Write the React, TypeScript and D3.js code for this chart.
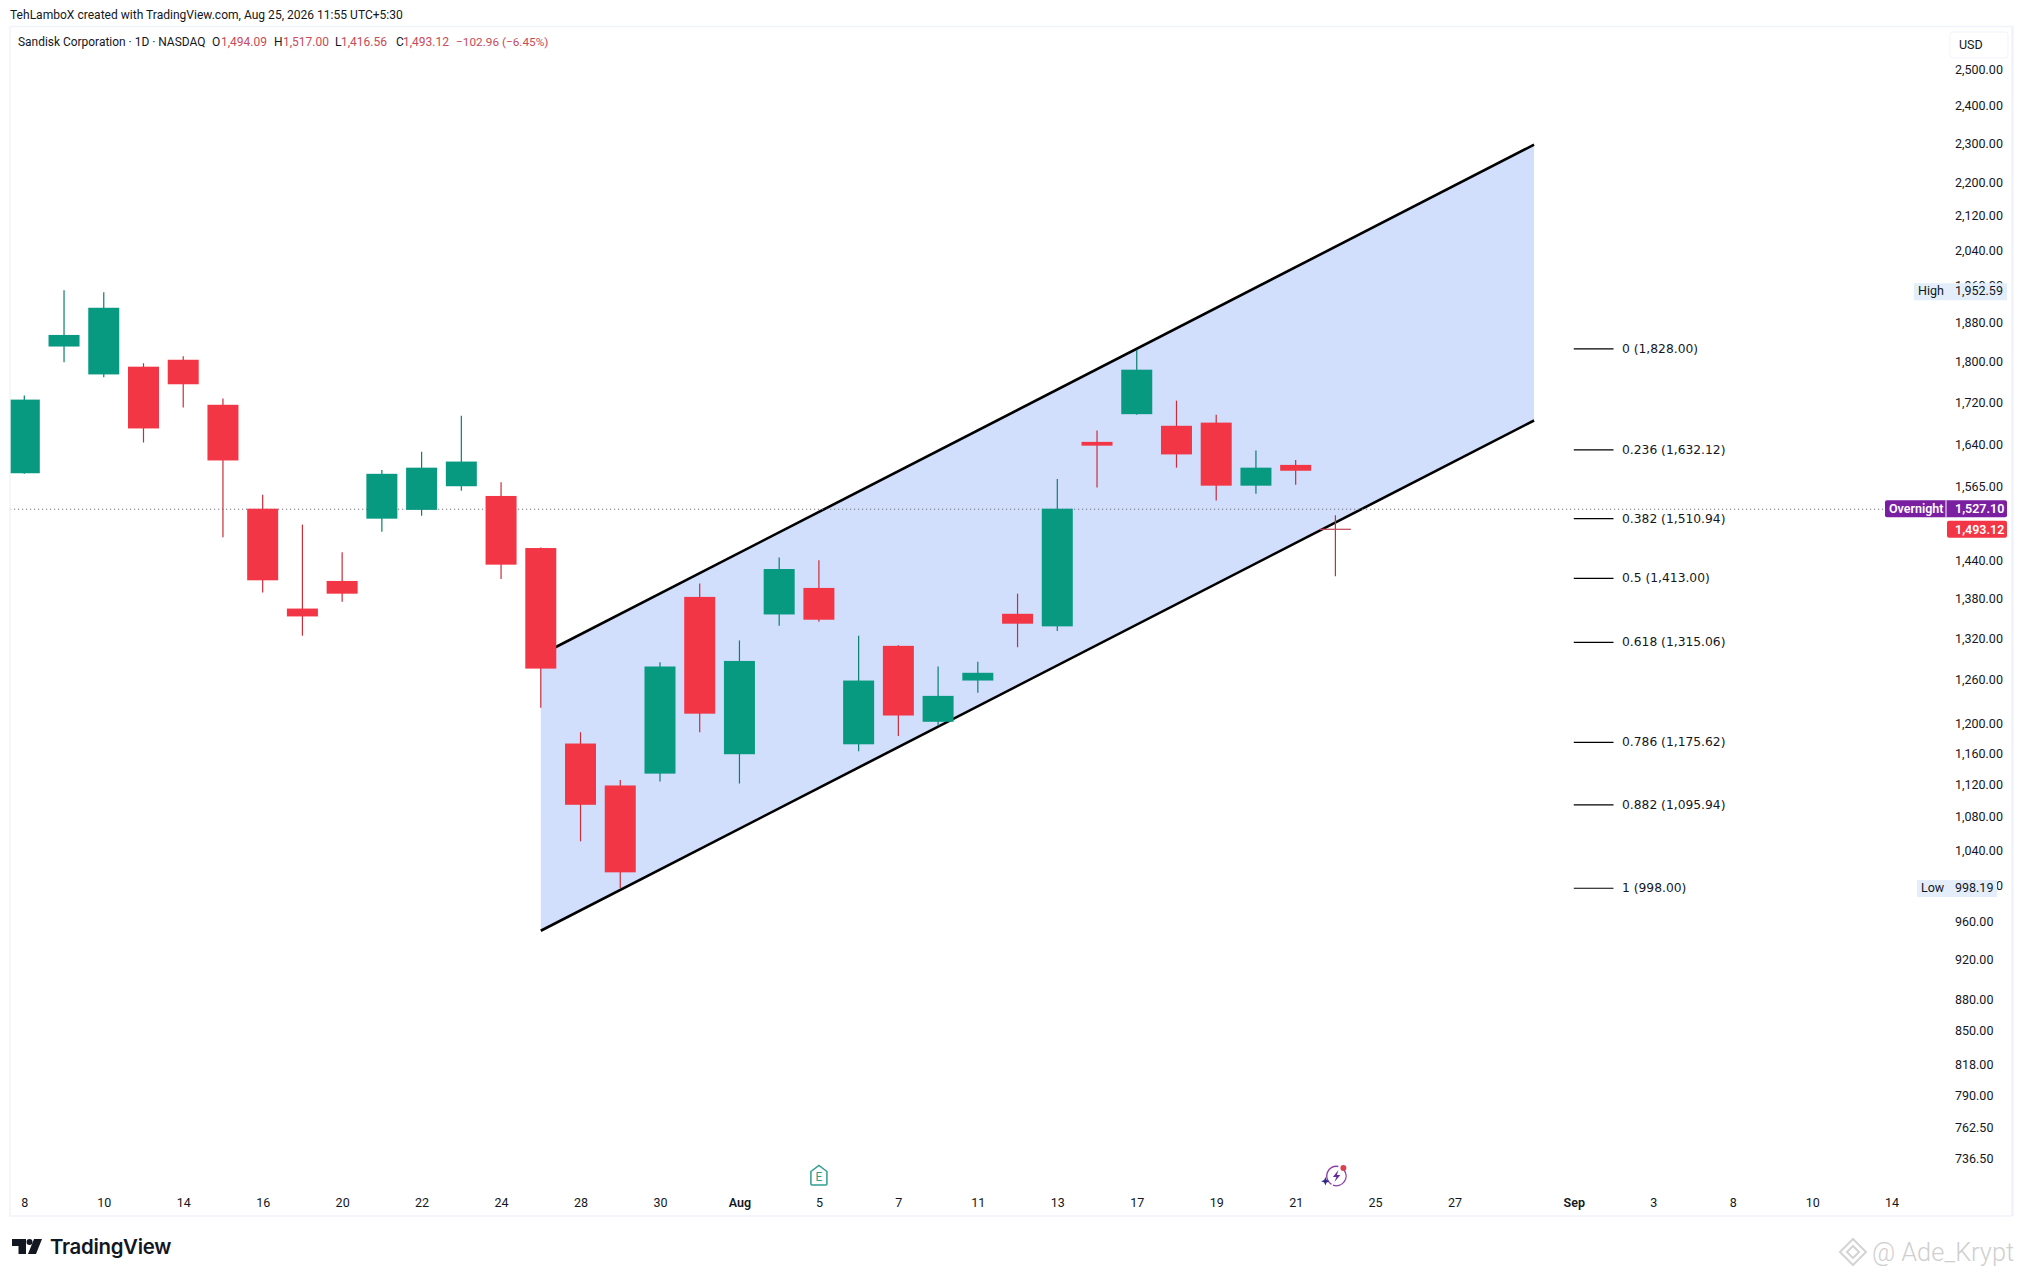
import React, { useRef, useEffect } from 'react';
import * as d3 from 'd3';

const WIDTH = 2022;
const HEIGHT = 1277;
const FONT = 'Roboto, sans-serif';

// daily bars (first bar is Jul 8)
const opens = [1590, 1833, 1776.5, 1792, 1806, 1717, 1528, 1366, 1409, 1511, 1526, 1567, 1550, 1462, 1174, 1120, 1135, 1384, 1160, 1357, 1398, 1173, 1310, 1203, 1260, 1358, 1339, 1647, 1699, 1677, 1683, 1568, 1605, 1494.09];
const highs = [1735, 1952.59, 1948, 1799, 1813, 1729, 1552, 1501, 1455, 1596, 1629, 1696, 1574, 1463, 1189, 1127, 1286, 1405, 1318, 1446.5, 1442, 1325, 1311, 1280, 1287, 1389, 1580, 1668, 1826, 1725, 1698, 1631, 1614, 1517];
const lows = [1589, 1801, 1771, 1646, 1712, 1480, 1391, 1325, 1376.5, 1489, 1516, 1559, 1412, 1222, 1052, 998.19, 1125, 1189, 1122.5, 1340, 1346, 1164, 1184, 1197.5, 1243, 1308, 1332, 1565, 1698, 1600, 1542, 1554, 1569.5, 1416.56];
const closes = [1727, 1857, 1914.5, 1672, 1757, 1613, 1410, 1354, 1389, 1589, 1600, 1611, 1435, 1277, 1096, 1016, 1280, 1214, 1288, 1428, 1349, 1260, 1211.5, 1238.5, 1271, 1343, 1528, 1640, 1786, 1624, 1568, 1600, 1594.5, 1493.12];

const priceTicks = [2500, 2400, 2300, 2200, 2120, 2040, 1960, 1880, 1800, 1720, 1640, 1565, 1440, 1380, 1320, 1260, 1200, 1160, 1120, 1080, 1040, 1000, 960, 920, 880, 850, 818, 790, 762.5, 736.5];
const timeTickBars = [0, 2, 4, 6, 8, 10, 12, 14, 16, 18, 20, 22, 24, 26, 28, 30, 32, 34, 36, 39, 41, 43, 45, 47];
const timeTickLabels = ['8', '10', '14', '16', '20', '22', '24', '28', '30', 'Aug', '5', '7', '11', '13', '17', '19', '21', '25', '27', 'Sep', '3', '8', '10', '14'];

// the two channel lines: [bar, price] at each end
const channelUpper = [[13, 1297], [38, 2299]];
const channelLower = [[13, 951.5], [38, 1687]];

const fibRatios = ['0', '0.236', '0.382', '0.5', '0.618', '0.786', '0.882', '1'];
const fibPrices = [1828, 1632.12, 1510.94, 1413, 1315.06, 1175.62, 1095.94, 998];

const overnightPrice = 1527.1;
const lastPrice = 1493.12;
const highPrice = 1952.59;
const lowPrice = 998.19;

const legendParts = [
  { x: 18, text: 'Sandisk Corporation · 1D · NASDAQ', fill: '#131722', size: 11.95 },
  { x: 212, text: 'O', fill: '#131722', size: 12 },
  { x: 221, text: '1,494.09', fill: '#c94a58', size: 12 },
  { x: 274, text: 'H', fill: '#131722', size: 12 },
  { x: 283, text: '1,517.00', fill: '#c94a58', size: 12 },
  { x: 335, text: 'L', fill: '#131722', size: 12 },
  { x: 341, text: '1,416.56', fill: '#c94a58', size: 12 },
  { x: 396, text: 'C', fill: '#131722', size: 12 },
  { x: 403, text: '1,493.12', fill: '#c94a58', size: 12 },
  { x: 456, text: '−102.96 (−6.45%)', fill: '#c94a58', size: 11.8 },
];

const GREEN = '#089981';
const RED = '#f23645';

const App = () => {
  const ref = useRef<SVGSVGElement>(null);

  useEffect(() => {
    const svg = d3.select(ref.current);
    svg.selectAll('*').remove();

    const x = d3.scaleLinear().domain([0, 33]).range([24.3, 1335.4]);
    const y = d3.scaleLog().domain([2500, 736.5]).range([70, 1159]);
    const bars = d3.range(opens.length);

    svg.append('rect').attr('width', WIDTH).attr('height', HEIGHT).attr('fill', '#fff');

    // frame
    svg.append('rect')
      .attr('x', 10).attr('y', 26.5)
      .attr('width', 2002).attr('height', 1189.5)
      .attr('fill', 'none').attr('stroke', '#f0f3fa').attr('stroke-width', 1.5);
    svg.append('line')
      .attr('x1', 2012.5).attr('x2', 2012.5).attr('y1', 26).attr('y2', 1216)
      .attr('stroke', '#f0f3fa').attr('stroke-width', 2.5);

    svg.append('defs').append('clipPath').attr('id', 'plot')
      .append('rect').attr('x', 10.7).attr('y', 27).attr('width', 2000).attr('height', 1188);
    const plot = svg.append('g').attr('clip-path', 'url(#plot)');

    // channel
    const channelArea = d3.area<number[]>()
      .x(d => x(d[0]))
      .y0((d, i) => y(channelLower[i][1]))
      .y1(d => y(d[1]));
    plot.append('path').datum(channelUpper).attr('d', channelArea).attr('fill', '#d2dffc');
    const channelLine = d3.line<number[]>().x(d => x(d[0])).y(d => y(d[1]));
    [channelUpper, channelLower].forEach(l => {
      plot.append('path').datum(l).attr('d', channelLine)
        .attr('fill', 'none').attr('stroke', '#000').attr('stroke-width', 2.6);
    });

    // overnight price line
    plot.append('line')
      .attr('x1', 10).attr('x2', 1885)
      .attr('y1', y(overnightPrice)).attr('y2', y(overnightPrice))
      .attr('stroke', '#6f7280').attr('stroke-width', 1).attr('stroke-dasharray', '1.2 2.8');

    // candles
    const candleColor = (i: number) => (closes[i] >= opens[i] ? GREEN : RED);
    plot.selectAll('line.wick').data(bars).join('line')
      .attr('class', 'wick')
      .attr('x1', i => x(i)).attr('x2', i => x(i))
      .attr('y1', i => y(highs[i])).attr('y2', i => y(lows[i]))
      .attr('stroke', i => d3.color(candleColor(i)).darker(0.5).formatHex()).attr('stroke-width', 1.2);
    plot.selectAll('rect.body').data(bars).join('rect')
      .attr('class', 'body')
      .attr('x', i => x(i) - 15.5)
      .attr('width', 31)
      .attr('y', i => y(Math.max(opens[i], closes[i])))
      .attr('height', i => Math.max(1.2, y(Math.min(opens[i], closes[i])) - y(Math.max(opens[i], closes[i]))))
      .attr('fill', i => (i === 33 ? '#c24655' : candleColor(i)));

    // fib levels
    const fib = svg.append('g');
    fib.selectAll('line').data(fibPrices).join('line')
      .attr('x1', x(39)).attr('x2', x(40))
      .attr('y1', d => y(d)).attr('y2', d => y(d))
      .attr('stroke', '#000').attr('stroke-width', 1.2);
    fib.selectAll('text').data(fibPrices).join('text')
      .attr('x', x(40) + 8.5)
      .attr('y', d => y(d))
      .attr('dy', '0.33em')
      .attr('font-family', 'DejaVu Sans')
      .attr('font-size', 12.3)
      .attr('fill', '#131722')
      .text((d, i) => `${fibRatios[i]} (${d3.format(',.2f')(d)})`);

    // price axis
    const yAxis = svg.append('g')
      .attr('transform', 'translate(1955,-1)')
      .call(d3.axisRight(y).tickValues(priceTicks).tickSize(0).tickPadding(0).tickFormat(d3.format(',.2f')));
    yAxis.select('.domain').remove();
    yAxis.selectAll('text').attr('font-family', FONT).attr('font-size', 12.5).attr('fill', '#131722');

    // time axis
    const xAxis = svg.append('g')
      .attr('transform', 'translate(0,1198)')
      .call(d3.axisBottom(x).tickValues(timeTickBars).tickSize(0).tickPadding(0)
        .tickFormat((d, i) => timeTickLabels[i]));
    xAxis.select('.domain').remove();
    xAxis.selectAll('text')
      .attr('font-family', FONT).attr('font-size', 12.5).attr('fill', '#131722')
      .attr('font-weight', (d, i) => (timeTickLabels[i] === 'Aug' || timeTickLabels[i] === 'Sep' ? 600 : 400));

    // USD box
    svg.append('rect').attr('x', 1950).attr('y', 32).attr('width', 58).attr('height', 26).attr('rx', 3)
      .attr('fill', '#fff').attr('stroke', '#f0f3fa').attr('stroke-width', 1);
    const label = (px: number, py: number, text: string, fill: string, weight = 400, size = 12.5) =>
      svg.append('text').attr('x', px).attr('y', py).attr('dy', '0.35em')
        .attr('font-family', FONT).attr('font-size', size).attr('font-weight', weight)
        .attr('fill', fill).text(text);
    label(1959, 44.5, 'USD', '#131722');

    // high / low tags
    svg.append('rect').attr('x', 1914).attr('y', y(highPrice) - 7).attr('width', 93).attr('height', 17).attr('fill', '#e3eefa');
    label(1918, y(highPrice) + 0.5, 'High', '#131722');
    label(1955, y(highPrice) + 0.5, d3.format(',.2f')(highPrice), '#131722');
    svg.append('rect').attr('x', 1917).attr('y', y(lowPrice) - 8).attr('width', 80).attr('height', 17).attr('fill', '#e3eefa');
    label(1921, y(lowPrice), 'Low', '#131722');
    label(1955, y(lowPrice), d3.format(',.2f')(lowPrice), '#131722');

    // overnight / last price tags
    const tagY = y(overnightPrice) - 0.5;
    svg.append('rect').attr('x', 1885).attr('y', tagY - 8.5).attr('width', 122).attr('height', 17).attr('rx', 2).attr('fill', '#7b1fa2');
    svg.append('line').attr('x1', 1946).attr('x2', 1946).attr('y1', tagY - 8.5).attr('y2', tagY + 8.5).attr('stroke', '#fff');
    label(1889, tagY, 'Overnight', '#fff', 600);
    label(1955, tagY, d3.format(',.2f')(overnightPrice), '#fff', 600);
    const lastY = y(lastPrice);
    svg.append('rect').attr('x', 1947).attr('y', lastY - 8.5).attr('width', 60).attr('height', 17).attr('rx', 2).attr('fill', RED);
    label(1955, lastY, d3.format(',.2f')(lastPrice), '#fff', 600);

    // header
    label(10, 14.5, 'TehLamboX created with TradingView.com, Aug 25, 2026 11:55 UTC+5:30', '#131722', 400, 12.05);
    legendParts.forEach(p => label(p.x, 41.5, p.text, p.fill, 400, p.size));

    // earnings flag
    const flag = svg.append('g').attr('transform', `translate(${x(20)},1175.5)`);
    flag.append('path')
      .attr('d', 'M-8,-4 L0,-10 L8,-4 V8.5 Q8,9.5 7,9.5 H-7 Q-8,9.5 -8,8.5 Z')
      .attr('fill', '#fff').attr('stroke', '#2f9e8f').attr('stroke-width', 1.5);
    flag.append('text').attr('text-anchor', 'middle').attr('y', 5.5)
      .attr('font-family', FONT).attr('font-size', 12).attr('fill', '#2f9e8f').text('E');

    // dividend-style icon next to the last bar
    const spark = svg.append('g').attr('transform', `translate(${x(33) + 1},1176)`);
    spark.append('path').attr('d', d3.arc()({ innerRadius: 9, outerRadius: 10.4, startAngle: -2.6, endAngle: 0.2 }) as string).attr('fill', '#8e3fa8');
    spark.append('path').attr('d', d3.arc()({ innerRadius: 9, outerRadius: 10.4, startAngle: 0.9, endAngle: 3.5 }) as string).attr('fill', '#8e3fa8');
    spark.append('path').attr('d', 'M2,-6 L-3.5,1 H0 L-2,6 L4,-1 H0.5 Z').attr('fill', '#6a2c9b');
    spark.append('path').attr('d', 'M-11,1 L-9.8,4 L-6.8,5.2 L-9.8,6.4 L-11,9.4 L-12.2,6.4 L-15.2,5.2 L-12.2,4 Z').attr('fill', '#2f2a86');
    spark.append('circle').attr('cx', 7).attr('cy', -8).attr('r', 3).attr('fill', '#d8434f');

    // logo
    const logo = svg.append('g').attr('fill', '#131722');
    logo.append('path').attr('d', 'M12,1239 H26 V1254 H18.5 V1246 H12 Z');
    logo.append('circle').attr('cx', 29.5).attr('cy', 1242).attr('r', 3);
    logo.append('path').attr('d', 'M34,1239 H42 L36,1254 H28 Z');
    logo.append('text').attr('x', 50).attr('y', 1254)
      .attr('font-family', 'Inter').attr('font-weight', 600).attr('font-size', 20.4).attr('letter-spacing', -0.3)
      .text('TradingView');

    // watermark
    const mark = svg.append('g').attr('fill', 'none').attr('stroke', '#d4d4d4').attr('stroke-width', 2);
    mark.append('path').attr('d', 'M1853,1239 L1866,1252 L1853,1265 L1840,1252 Z');
    mark.append('path').attr('d', 'M1847,1252 L1853,1246 L1859,1252 L1853,1258 Z');
    svg.append('text').attr('x', 1872).attr('y', 1261)
      .attr('font-family', FONT).attr('font-weight', 300).attr('font-size', 25.3).attr('fill', '#cfcfcf')
      .text('@ Ade_Krypt');
  }, []);

  return (
    <svg ref={ref} width={WIDTH} height={HEIGHT} style={{ position: 'absolute', left: 0, top: 0, display: 'block' }}></svg>
  );
};

export default App;
